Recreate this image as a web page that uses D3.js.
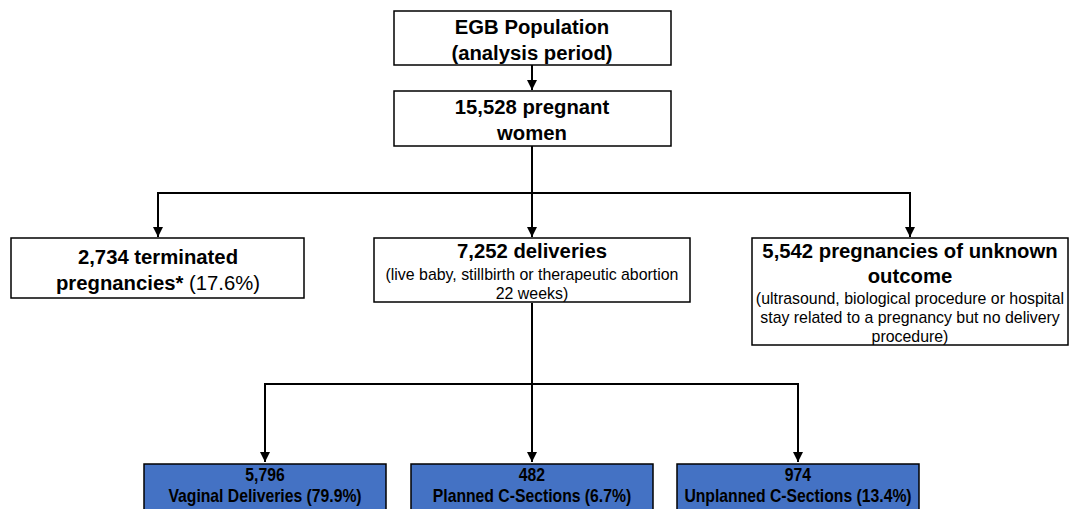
<!DOCTYPE html>
<html>
<head>
<meta charset="utf-8">
<script src="https://cdn.jsdelivr.net/npm/d3@7"></script>
<style>
  body { margin: 0; background: #fff; }
  svg { display: block; font-family: "Liberation Sans", Arial, sans-serif; }
</style>
</head>
<body>
<svg width="1069" height="509"></svg>
<script>
const svg = d3.select('svg');

// flowchart contents
const topLabels = ['EGB Population', '(analysis period)'];
const cohortLabels = ['15,528 pregnant', 'women'];
const outcomeCounts = ['2,734', '7,252', '5,542'];
const outcomeNames = ['terminated pregnancies*', 'deliveries', 'pregnancies of unknown outcome'];
const outcomeNotes = [
  ['(17.6%)'],
  ['(live baby, stillbirth or therapeutic abortion', '22 weeks)'],
  ['(ultrasound, biological procedure or hospital', 'stay related to a pregnancy but no delivery', 'procedure)']
];
const deliveryCounts = ['5,796', '482', '974'];
const deliveryNames = ['Vaginal Deliveries (79.9%)', 'Planned C-Sections (6.7%)', 'Unplanned C-Sections (13.4%)'];

const BIG = 20.3, SMALL = 15.9;

const defs = svg.append('defs');
defs.append('marker')
  .attr('id', 'arr')
  .attr('viewBox', '0 0 10 10')
  .attr('refX', 10).attr('refY', 5)
  .attr('markerWidth', 5).attr('markerHeight', 5)
  .attr('markerUnits', 'strokeWidth')
  .attr('orient', 'auto')
  .append('path').attr('d', 'M0,0L10,5L0,10Z').attr('fill', '#000');

const line = (pts, arrow) => svg.append('path')
  .attr('d', d3.line()(pts))
  .attr('fill', 'none').attr('stroke', '#000').attr('stroke-width', 2)
  .attr('marker-end', arrow ? 'url(#arr)' : null);

const box = (x, y, w, h, fill) => svg.append('rect')
  .attr('x', x).attr('y', y).attr('width', w).attr('height', h)
  .attr('fill', fill || '#fff').attr('stroke', '#000').attr('stroke-width', 1.5);

const txt = (x, y, s, size, weight) => svg.append('text')
  .attr('x', x).attr('y', y).attr('text-anchor', 'middle')
  .attr('font-size', size).attr('font-weight', weight || 'bold')
  .text(s);

// connectors
line([[532, 65], [532, 90]], true);
line([[532, 146], [532, 193], [158, 193], [158, 237]], true);
line([[532, 193], [532, 237]], true);
line([[532, 193], [910, 193], [910, 237]], true);
line([[532, 303], [532, 384], [265, 384], [265, 462]], true);
line([[532, 384], [532, 462]], true);
line([[532, 384], [798, 384], [798, 462]], true);

// top boxes
box(394, 11, 277, 54);
topLabels.forEach((s, i) => txt(532, 34 + i * 26, s, BIG));
box(394, 91, 277, 55);
cohortLabels.forEach((s, i) => txt(532, 114 + i * 26, s, BIG));

// outcome boxes
const oX = [11, 374, 752], oW = [293, 316, 316], oH = [60, 64, 107];
oX.forEach((x, i) => box(x, 238, oW[i], oH[i]));

// terminated
txt(158, 264, outcomeCounts[0] + ' terminated', BIG);
const t2 = txt(158, 290, '', BIG);
t2.append('tspan').text('pregnancies*');
t2.append('tspan').attr('font-weight', 'normal').text(' ' + outcomeNotes[0][0]);

// deliveries
txt(532, 258, outcomeCounts[1] + ' ' + outcomeNames[1], BIG);
outcomeNotes[1].forEach((s, i) => txt(532, 280 + i * 19, s, SMALL, 'normal'));

// unknown
txt(910, 258, outcomeCounts[2] + ' pregnancies of unknown', BIG);
txt(910, 283, 'outcome', BIG);
outcomeNotes[2].forEach((s, i) => txt(910, 304 + i * 19, s, SMALL, 'normal'));

// delivery type boxes (condensed bold labels)
const dCx = [265, 532, 798];
dCx.forEach((cx, i) => {
  box(cx - 121, 464, 242, 50, '#4472C4');
  const g = svg.append('g').attr('transform', `translate(${cx},0) scale(0.9,1)`);
  [deliveryCounts[i], deliveryNames[i]].forEach((s, j) => g.append('text')
    .attr('x', 0).attr('y', 481 + j * 21)
    .attr('text-anchor', 'middle')
    .attr('font-size', 17.5).attr('font-weight', 'bold')
    .text(s));
});
</script>
</body>
</html>
